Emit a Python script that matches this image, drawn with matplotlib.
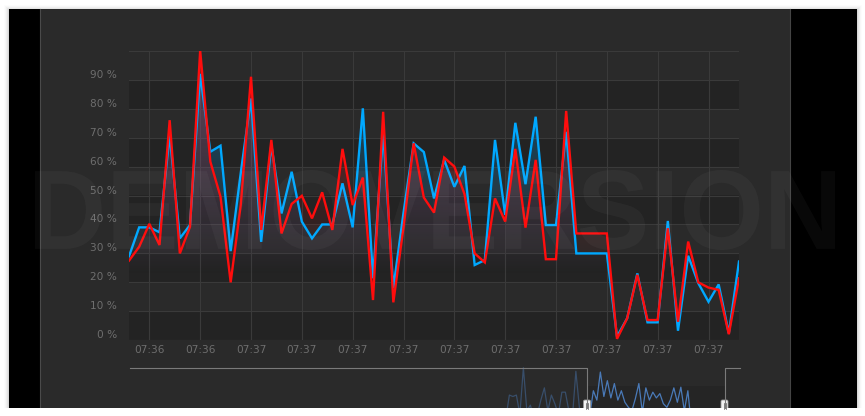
import matplotlib
matplotlib.use('Agg')
import matplotlib.pyplot as plt
import numpy as np
from matplotlib.patches import Rectangle, Polygon, PathPatch, FancyBboxPatch
from matplotlib.textpath import TextPath
from matplotlib.font_manager import FontProperties
from matplotlib.transforms import Affine2D, ScaledTranslation

W, H = 865, 416

# series values (%), one point per sample
blue = [29, 39, 39, 37.3, 71, 35.2, 39.8, 92, 65.1, 67.2,
        30.8, 58, 83.5, 34, 67.5, 43.8, 58.2, 41, 35.2, 40,
        40, 54.2, 39, 80.1, 21.4, 72, 18, 44, 68, 65,
        49, 62.3, 53, 60.2, 26, 27.7, 69.2, 43.3, 75.1, 53.9,
        77.2, 39.8, 39.8, 72, 30, 30, 30, 30, 1.3, 7.6,
        23.1, 6.2, 6.2, 41.2, 3.3, 29.2, 19.7, 13.3, 19.3, 2.4,
        27.2]
red = [27.5, 32.3, 40.2, 32.9, 76, 30, 39.2, 100, 61.7, 49.6,
       20, 47, 91, 38.1, 69.2, 36.9, 47.1, 49.9, 42.1, 51.1,
       38.1, 66.1, 46.7, 56.2, 13.9, 78.9, 13.1, 39, 68, 49.3,
       44.1, 63.1, 60, 50.5, 30, 26.9, 49, 41, 66.1, 38.9,
       62.3, 28, 28, 79.2, 36.9, 36.9, 36.9, 36.9, 0.5, 7.6,
       22.6, 7.0, 7.0, 38.7, 6.4, 34.1, 20, 18.2, 17.4, 2.1,
       21.4]
tick_idx = [2, 7, 12, 17, 22, 27, 32, 37, 42, 47, 52, 57]
tick_labels = ['07:36', '07:36'] + ['07:37'] * 10
y_ticks = list(range(0, 101, 10))

# navigator history (relative values)
nav_vals = [30, 62, 60, 62, 35, 100, 40, 48, 30, 35, 55, 72, 40, 62, 50, 35, 66, 66,
            40, 30, 95, 45, 25, 25, 35, 68, 55, 94, 60, 82, 58, 78, 55, 68, 52, 45,
            40, 57, 78, 38, 72, 55, 66, 58, 64, 50, 45, 55, 72, 52, 73, 40, 68, 20]

PANEL = '#2a2a2a'
GRID = '#3a3a3a'
LABEL = '#6e6e6e'
BLUE = '#00a8ff'
RED = '#ff0d0d'


def rect(x0, y0, x1, y1):
    return [x0 / W, 1 - y1 / H, (x1 - x0) / W, (y1 - y0) / H]


fig = plt.figure(figsize=(W / 100, H / 100), dpi=100, facecolor='white')

# background in pixel coordinates
bg = fig.add_axes([0, 0, 1, 1], zorder=-5)
bg.set_xlim(0, W)
bg.set_ylim(H, 0)
bg.axis('off')
for k, a in enumerate([0.05, 0.04, 0.03, 0.02, 0.012]):
    d = k + 1
    bg.add_patch(Rectangle((9 - d, 9 - d + 1), 848 + 2 * d, 399 + 2 * d,
                           facecolor='black', alpha=a, lw=0))
bg.add_patch(Rectangle((9, 9), 848, 399, facecolor='white', lw=0))
bg.add_patch(Rectangle((9, 9), 31, 399, facecolor='black', lw=0))
bg.add_patch(Rectangle((40, 9), 750, 399, facecolor=PANEL, lw=0))
bg.add_patch(Rectangle((790, 9), 67, 399, facecolor='black', lw=0))
bg.plot([39.5, 39.5], [9, 408], color='#4a4a4a', lw=0.8)
bg.plot([789.5, 789.5], [9, 408], color='#444444', lw=0.8)

# main chart
ax = fig.add_axes(rect(129, 50.7, 739, 340.3))
ax.set_facecolor('none')
x = np.arange(len(blue))
for lo in range(0, 100, 20):
    ax.axhspan(lo, lo + 10, color='#232323', lw=0, zorder=0)


def gradient_fill(vals, color, top_alpha):
    verts = [(0, 0)] + list(zip(x, vals)) + [(x[-1], 0)]
    poly = Polygon(verts, closed=True, facecolor='none', edgecolor='none')
    ax.add_patch(poly)
    rgb = matplotlib.colors.to_rgb(color)
    grad = np.zeros((200, 1, 4))
    grad[:, 0, :3] = rgb
    level = np.linspace(0, 100, 200)
    grad[:, 0, 3] = top_alpha * np.clip((level - 22) / 78, 0, 1)
    im = ax.imshow(grad, extent=[0, x[-1], 0, 100], origin='lower',
                   aspect='auto', zorder=1, interpolation='bilinear')
    im.set_clip_path(poly)


gradient_fill(blue, BLUE, 0.36)
gradient_fill(red, RED, 0.32)
ax.plot(x, blue, color=BLUE, lw=1.7, zorder=3, solid_joinstyle='miter')
ax.plot(x, red, color=RED, lw=1.7, zorder=4, solid_joinstyle='miter')

ax.set_xlim(0, x[-1])
ax.set_ylim(0, 100)
ax.set_yticks(y_ticks)
ax.set_yticklabels([f'{v} %' for v in y_ticks[:-1]] + [''])
ax.set_xticks(tick_idx)
ax.set_xticklabels(tick_labels)
ax.grid(True, color=GRID, lw=0.8, zorder=0.5)
ax.set_axisbelow(True)
for s in ax.spines.values():
    s.set_visible(False)
ax.tick_params(length=0, colors=LABEL, labelsize=7.6)
ax.tick_params(axis='y', pad=8.6)
ax.tick_params(axis='x', pad=3.2)
for lbl in ax.get_yticklabels():
    lbl.set_transform(lbl.get_transform() + ScaledTranslation(0, 0.06, fig.dpi_scale_trans))

# navigator
nav = fig.add_axes(rect(130, 367, 740, 408))
nav.set_facecolor('none')
nav.axis('off')
nx = np.arange(len(nav_vals))
nav.plot(nx, nav_vals, color='#4a7ab8', lw=0.9)
nav.set_xlim(-107.4, 66.9)
nav.set_ylim(44, 101)
nav.add_patch(Rectangle((23.6, 44), 39.4, 30, facecolor='#222222', alpha=0.5, lw=0, zorder=0))

# overlay in pixel coordinates
fg = fig.add_axes([0, 0, 1, 1], zorder=5)
fg.set_xlim(0, W)
fg.set_ylim(H, 0)
fg.axis('off')
fg.patch.set_alpha(0)
# navigator mask and outline
fg.add_patch(Rectangle((130, 367), 457, 41, facecolor=PANEL, alpha=0.55, lw=0))
fg.add_patch(Rectangle((725, 367), 15, 41, facecolor=PANEL, alpha=0.55, lw=0))
fg.plot([130, 587, 587], [367.5, 367.5, 408], color='#7a7a7a', lw=0.8)
fg.plot([724.5, 724.5, 740], [408, 367.5, 367.5], color='#7a7a7a', lw=0.8)
for hx in (587, 724.5):
    fg.add_patch(FancyBboxPatch((hx - 3.5, 400), 7, 12, boxstyle='round,pad=0,rounding_size=1.5',
                                facecolor='#f2f2f2', edgecolor='#999999', lw=0.6))
    fg.plot([hx - 1, hx - 1], [403, 409], color='#555555', lw=0.5)
    fg.plot([hx + 1, hx + 1], [403, 409], color='#555555', lw=0.5)
fg.add_patch(Rectangle((0, 408), W, 8, facecolor='white', lw=0))

# watermark
tp = TextPath((0, 0), 'DEMOVERSION', size=1,
              prop=FontProperties(family='Liberation Sans', weight='bold'))
ext = tp.get_extents()
tr = (Affine2D().translate(-ext.x0, -ext.y0)
      .scale(800 / ext.width, -80 / ext.height)
      .translate(35, 250) + fg.transData)
fg.add_patch(PathPatch(tp, transform=tr, facecolor='white', alpha=0.035, lw=0))

fig.savefig('out.png', dpi=100, facecolor='white')
